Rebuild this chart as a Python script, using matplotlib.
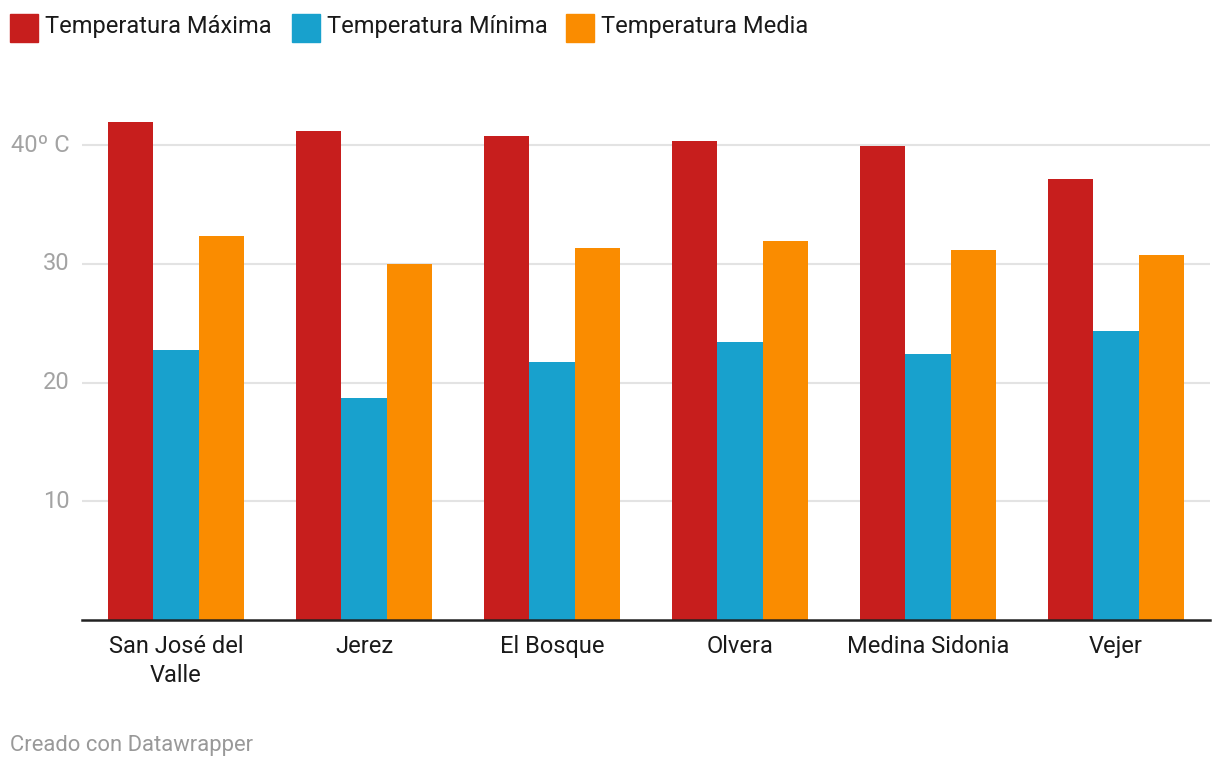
import matplotlib.pyplot as plt
import matplotlib.patches as mpatches
import numpy as np

plt.rcParams['font.family'] = ['Roboto', 'DejaVu Sans']

# data
towns = ['San José del\nValle', 'Jerez', 'El Bosque', 'Olvera', 'Medina Sidonia', 'Vejer']
temp_max = [41.9, 41.2, 40.8, 40.3, 39.9, 37.1]
temp_min = [22.7, 18.7, 21.7, 23.4, 22.4, 24.3]
temp_media = [32.3, 30.0, 31.3, 31.9, 31.2, 30.7]
series_names = ['Temperatura Máxima', 'Temperatura Mínima', 'Temperatura Media']
colors = ['#c71e1d', '#18a1cd', '#fa8c00']
yticks = [10, 20, 30, 40]
ytick_labels = ['10', '20', '30', '40º C']

W, H = 1220, 770
fig = plt.figure(figsize=(W / 100, H / 100), dpi=100)
ax = fig.add_axes([82 / W, 1 - 620 / H, (1210 - 82) / W, (620 - 97.5) / H])

x = np.arange(len(towns))
width = 45.4 / 188
for i, (vals, c) in enumerate(zip([temp_max, temp_min, temp_media], colors)):
    ax.bar(x + (i - 1) * width, vals, width, color=c, zorder=3, linewidth=0)

ax.set_xlim(-0.5, len(towns) - 0.5)
ax.set_ylim(0, 44)

# grid lines
for t in yticks:
    ax.axhline(t, color='#e3e3e3', lw=1.5, zorder=1)
ax.set_yticks([])
for t, lab in zip(yticks, ytick_labels):
    ax.text(-0.565, t, lab, ha='right', va='center', fontsize=17,
            color='#a3a3a3', transform=ax.transData)

ax.set_xticks(x)
ax.set_xticklabels(towns, fontsize=17, color='#1a1a1a', linespacing=1.3)
ax.tick_params(axis='x', length=0, pad=11)

for s in ['top', 'right', 'left']:
    ax.spines[s].set_visible(False)
ax.spines['bottom'].set_color('#222222')
ax.spines['bottom'].set_linewidth(1.8)
ax.spines['bottom'].set_zorder(4)

# legend drawn by hand at the top
legend_x = [10, 292, 566]
for lx, name, c in zip(legend_x, series_names, colors):
    fig.patches.append(mpatches.Rectangle((lx / W, 1 - 42 / H), 28 / W, 28 / H,
                                          transform=fig.transFigure, color=c))
    fig.text((lx + 35) / W, 1 - 27 / H, name, fontsize=17, color='#1a1a1a',
             va='center', ha='left')

fig.text(10 / W, 1 - 746 / H, 'Creado con Datawrapper', fontsize=15.8,
         color='#999999', va='center', ha='left')

plt.savefig('out.png', dpi=100)
plt.close()
